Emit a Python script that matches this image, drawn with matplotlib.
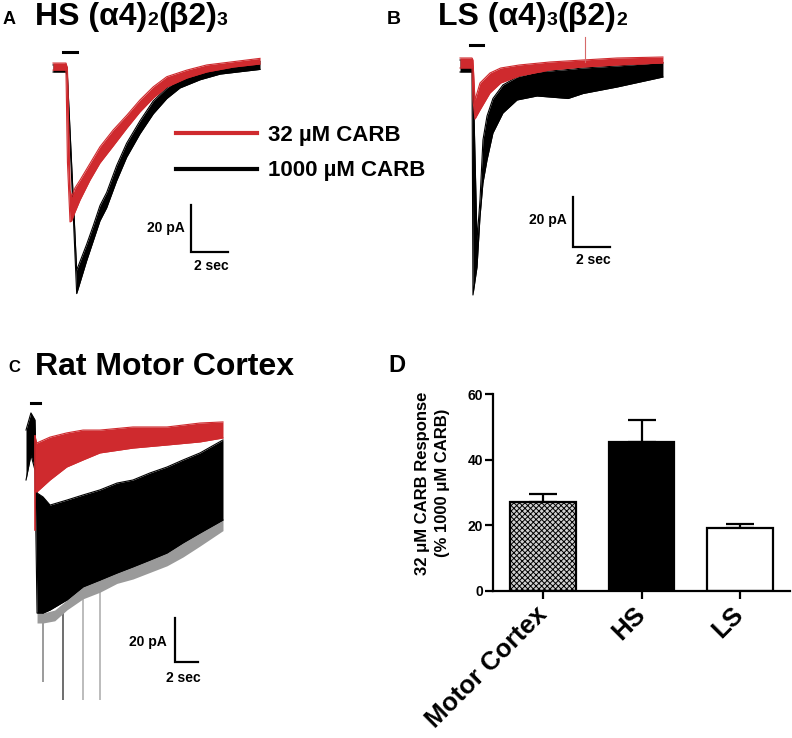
import matplotlib
matplotlib.use('Agg')
import matplotlib.pyplot as plt
from matplotlib.lines import Line2D
from matplotlib.transforms import ScaledTranslation
import numpy as np

plt.rcParams['font.family'] = ['Liberation Sans', 'DejaVu Sans']
plt.rcParams['hatch.linewidth'] = 0.7

# ---- data (time in s, current in pA) ----
# A: HS (a4)2(b2)3
a_red_t = [0, 0.70, 0.78, 0.92, 1.01, 1.19, 1.46, 2.0, 2.54, 3.25, 4.0, 4.70, 5.42, 6.15, 7.23, 8.31, 9.75, 11.19]
a_red_hi = [2.1, 2.1, 0, -52, -54.8, -51, -47.7, -40.6, -33.5, -26.4, -20.0, -13.6, -8.0, -3.7, -0.9, 1.3, 2.7, 4.1]
a_red_lo = [-0.9, -0.9, -40, -65.5, -65, -61.3, -56.2, -47.7, -40.4, -33.2, -25.5, -18.7, -12.8, -8.1, -4.3, -1.7, 0.4, 1.7]
a_blk_t = [0, 0.70, 0.76, 1.28, 1.82, 2.18, 2.54, 2.90, 3.44, 3.98, 4.70, 5.42, 6.15, 6.86, 7.95, 9.03, 10.1, 11.19]
a_blk_hi = [1.3, 1.3, 0, -86, -75, -67, -58.5, -53, -41.5, -32, -22.5, -14, -8.5, -4.5, -1.2, 0.6, 1.5, 2.8]
a_blk_lo = [-1.7, -1.7, -3, -96, -82, -73.5, -65, -59.5, -48, -38, -28, -19.5, -13, -8.5, -5, -2.6, -1.6, -0.6]
a_stim = [0.54, 1.30]

# B: LS (a4)3(b2)2
b_red_t = [0, 0.65, 0.70, 0.81, 1.08, 1.62, 2.2, 3.2, 4.86, 6.65, 8.49, 10.97]
b_red_hi = [3.2, 3.2, 2.4, -13.6, -6.8, -2.8, -0.8, 0.4, 1.6, 2.4, 3.2, 3.6]
b_red_lo = [-0.8, -0.8, -13.6, -21.2, -17.6, -10.8, -6.8, -4.0, -1.6, -0.4, 0.4, 1.2]
b_red_spike_t = 6.76
b_red_spike = [1.6, 11.6]
b_blk_t = [0, 0.65, 0.70, 0.92, 1.08, 1.24, 1.46, 1.78, 2.32, 3.08, 4.16, 5.84, 6.65, 8.49, 10.97]
b_blk_hi = [2.4, 2.4, -1.6, -69.6, -53.6, -29.6, -20, -13, -7.6, -4.4, -2.4, -1.4, -0.8, 0, 1.4]
b_blk_lo = [-2.4, -2.4, -91.6, -80.4, -60.4, -46.8, -37.6, -26.8, -18.8, -13.6, -12.0, -13.0, -11.0, -8.4, -4.4]
b_stim = [0.54, 1.24]

# C: rat motor cortex
c_red_t = [0.78, 0.93, 2.09, 3.54, 4.96, 6.43, 9.30, 12.26, 15.13, 17.13]
c_red_hi = [-5, -8.2, -5.5, -3.6, -2.3, -2.3, -0.9, -0.9, 0.9, 1.4]
c_red_lo = [-30, -30.5, -25, -19.1, -15.9, -12.7, -10.5, -9.1, -7.7, -5.9]
c_red_drop = [-5, -47.7]
c_blk_t = [0, 0.43, 0.78, 0.96, 1.48, 2.09, 3.57, 4.96, 6.43, 7.91, 9.30, 10.78, 12.26, 13.65, 15.13, 17.13]
c_blk_hi = [-2.3, 5.5, 2.3, -30.9, -32.7, -36.4, -34.1, -31.8, -29.5, -26.4, -25.0, -21.8, -19.1, -15.9, -12.7, -6.8]
c_blk_lo = [-25.0, -13.6, -20.5, -85.5, -85.5, -84.1, -79.5, -73.6, -70.5, -67.3, -64.5, -61.4, -58.2, -53.6, -49.1, -43.2]
c_gray_t = [0.96, 1.48, 2.5, 3.57, 4.96, 6.43, 7.91, 9.30, 10.78, 12.26, 13.65, 15.13, 17.13]
c_gray_lo = [-90, -90, -89, -84, -79, -76, -72, -70, -67, -64, -60, -55, -48]
c_spike_t = [1.48, 3.22, 4.96, 6.43]
c_spike_top = [-85, -84, -74, -70]
c_spike_tip = [-116.8, -125, -125, -125]
c_stim = [0.43, 1.22]

# D: bar chart
groups = ['Motor Cortex', 'HS', 'LS']
resp = [27.1, 45.4, 19.2]
resp_err = [2.4, 6.7, 1.2]

RED = '#cf2a2e'
W, H = 792, 738
fig = plt.figure(figsize=(W / 100, H / 100), dpi=100)


def px_axes(left, top, right, bottom):
    return fig.add_axes([left / W, 1 - bottom / H, (right - left) / W, (bottom - top) / H])


def trace_axes(box, x0, y0, pxs, pxa):
    ax = px_axes(*box)
    ax.set_xlim((box[0] - x0) / pxs, (box[2] - x0) / pxs)
    ax.set_ylim(-(box[3] - y0) / pxa, -(box[1] - y0) / pxa)
    ax.axis('off')
    return ax


def band(ax, t, hi, lo, color, z):
    ax.fill_between(t, lo, hi, color=color, lw=0, zorder=z)
    ax.plot(t, hi, color=color, lw=0.8, zorder=z)
    ax.plot(t, lo, color=color, lw=0.8, zorder=z)


def scale_bar(ax, t0, i0, dt=2, di=20):
    ax.plot([t0, t0, t0 + dt], [i0 + di, i0, i0], color='black', lw=1.6, solid_joinstyle='miter')


def ftext(x, y, s, **kw):
    return fig.text(x / W, 1 - y / H, s, fontweight='bold', **kw)


def seq_title(x, y, parts):
    r = fig.canvas.get_renderer()
    for s, size in parts:
        t = ftext(x, y, s, fontsize=size, va='baseline')
        x += t.get_window_extent(renderer=r).width


# ---- panel A ----
axA = trace_axes((0, 30, 300, 300), 53, 68, 18.5, 2.35)
band(axA, a_blk_t, a_blk_hi, a_blk_lo, 'black', 2)
band(axA, a_red_t, a_red_hi, a_red_lo, RED, 3)
axA.plot(a_stim, [6.8, 6.8], color='black', lw=2.2)
scale_bar(axA, 7.46, -78.3)
axA.text(7.14, -68.1, '20 pA', ha='right', va='center', fontsize=10, fontweight='bold')
axA.text(8.54, -84.3, '2 sec', ha='center', va='center', fontsize=10, fontweight='bold')
handles = [Line2D([], [], color=RED, lw=3), Line2D([], [], color='black', lw=3)]
axA.legend(handles, ['32 µM CARB', '1000 µM CARB'], loc='upper left',
           bbox_to_anchor=(176 / W, 1 - 125 / H), bbox_transform=fig.transFigure,
           frameon=False, handlelength=3.65, handletextpad=0.5, labelspacing=0.65,
           borderpad=0, borderaxespad=0, prop=dict(weight='bold', size=16))
ftext(3, 24, 'A', fontsize=13, va='baseline')
seq_title(35, 25, [('HS (α4)', 23), ('2', 14), ('(β2)', 23), ('3', 14)])

# ---- panel B ----
axB = trace_axes((440, 30, 700, 310), 460, 66, 18.5, 2.5)
band(axB, b_blk_t, b_blk_hi, b_blk_lo, 'black', 2)
band(axB, b_red_t, b_red_hi, b_red_lo, RED, 3)
axB.plot([b_red_spike_t] * 2, b_red_spike, color='#d66a6a', lw=0.8, zorder=3)
axB.plot(b_stim, [8.4, 8.4], color='black', lw=2.2)
scale_bar(axB, 6.11, -72.4)
axB.text(5.78, -61.6, '20 pA', ha='right', va='center', fontsize=10, fontweight='bold')
axB.text(7.19, -77.6, '2 sec', ha='center', va='center', fontsize=10, fontweight='bold')
ftext(387, 24, 'B', fontsize=14, va='baseline')
seq_title(438, 25, [('LS (α4)', 23), ('3', 14), ('(β2)', 23), ('2', 14)])

# ---- panel C ----
axC = trace_axes((0, 380, 240, 738), 26, 425, 11.5, 2.2)
axC.vlines(c_spike_t, c_spike_tip, c_spike_top, colors=['#8a8a8a', '#555555', '#b0b0b0', '#b0b0b0'], lw=1.2, zorder=1)
axC.fill_between(c_gray_t, c_gray_lo, c_blk_lo[3:], color='#9a9a9a', lw=0, zorder=1)
band(axC, c_blk_t, c_blk_hi, c_blk_lo, 'black', 2)
band(axC, c_red_t, c_red_hi, c_red_lo, RED, 3)
axC.plot([c_red_t[0]] * 2, c_red_drop, color=RED, lw=1.2, zorder=3)
axC.plot(c_stim, [10, 10], color='black', lw=2.2)
scale_bar(axC, 12.96, -107.7)
axC.text(12.26, -98.6, '20 pA', ha='right', va='center', fontsize=10, fontweight='bold')
axC.text(13.65, -115, '2 sec', ha='center', va='center', fontsize=10, fontweight='bold')
ftext(8, 372, 'C', fontsize=12, va='baseline')
ftext(35, 375, 'Rat Motor Cortex', fontsize=23, va='baseline')

# ---- panel D ----
axD = px_axes(493, 394, 790, 591)
x = np.arange(len(groups))
bars = axD.bar(x, resp, width=0.67, color=['#d0d0d0', 'black', 'white'],
               edgecolor='black', linewidth=1.6, zorder=2)
bars[0].set_hatch('xxxxxx')
axD.errorbar(x, resp, yerr=[np.zeros(3), resp_err], fmt='none', ecolor='black',
             elinewidth=1.6, capsize=10, capthick=1.6, zorder=1)
axD.set_xlim(-0.508, 2.508)
axD.set_ylim(0, 60)
axD.set_yticks([0, 20, 40, 60])
axD.set_xticks(x)
axD.set_xticklabels(groups, rotation=45, ha='right', va='center', rotation_mode='anchor',
                    fontsize=18.5, fontweight='bold')
shift = ScaledTranslation(5 / 100, 0, fig.dpi_scale_trans)
for lab in axD.get_xticklabels():
    lab.set_transform(lab.get_transform() + shift)
for lab in axD.get_yticklabels():
    lab.set_fontweight('bold')
    lab.set_fontsize(10)
axD.tick_params(axis='both', width=1.6, length=6, direction='out')
axD.tick_params(axis='x', pad=8)
axD.tick_params(axis='y', pad=1)
for s in ['top', 'right']:
    axD.spines[s].set_visible(False)
for s in ['left', 'bottom']:
    axD.spines[s].set_linewidth(1.6)
axD.set_ylabel('32 μM CARB Response\n(% 1000 μM CARB)', fontsize=12, fontweight='bold', linespacing=1.4)
axD.yaxis.set_label_coords(-0.145, 0.548)
ftext(388, 372, 'D', fontsize=17, va='baseline')

fig.savefig('out.png', dpi=100)
